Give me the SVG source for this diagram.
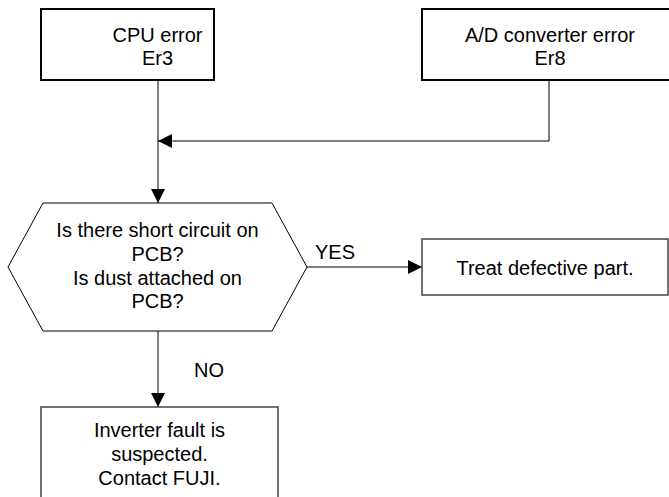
<svg xmlns="http://www.w3.org/2000/svg" width="669" height="497" viewBox="0 0 669 497">
<defs>
<marker id="arr" viewBox="0 0 14 14" refX="14" refY="7" markerWidth="14" markerHeight="14" markerUnits="userSpaceOnUse" orient="auto">
<path d="M0,0 L14,7 L0,14 Z" fill="#000"/>
</marker>
</defs>
<style>
text{font-family:"Liberation Sans",Arial,sans-serif;font-size:20px;fill:#000;text-anchor:middle}
.bx{fill:#fff;stroke:#000;stroke-width:2}
.bx2{fill:#fff;stroke:#444;stroke-width:1.5}
.hex{fill:#fff;stroke:#000;stroke-width:1}
.ln{fill:none;stroke:#000;stroke-width:1}
.lbl{text-anchor:start}
</style>
<g id="connectors">
<path class="ln" d="M158,80 L158,203" marker-end="url(#arr)"/>
<path class="ln" d="M549,80 L549,141 L158,141" marker-end="url(#arr)"/>
<path class="ln" d="M307,267 L422,267" marker-end="url(#arr)"/>
<path class="ln" d="M158,331 L158,407" stroke="#333" marker-end="url(#arr)"/>
<text class="lbl" x="315" y="259">YES</text>
<text class="lbl" x="194" y="377">NO</text>
</g>
<g id="cpu">
<rect class="bx" x="41" y="9" width="173" height="71"/>
<text x="157.5" y="42">CPU error</text>
<text x="157.5" y="65">Er3</text>
</g>
<g id="ad">
<rect class="bx" x="422" y="9" width="260" height="71"/>
<text x="550" y="42">A/D converter error</text>
<text x="550" y="65">Er8</text>
</g>
<g id="check">
<polygon class="hex" points="43,203 272,203 307,267 272,331 43,331 8,267"/>
<text x="157.5" y="237">Is there short circuit on</text>
<text x="157.5" y="261">PCB?</text>
<text x="157.5" y="285">Is dust attached on</text>
<text x="157.5" y="308">PCB?</text>
</g>
<g id="treat">
<rect class="bx2" x="422" y="239" width="246" height="56"/>
<text x="545" y="275">Treat defective part.</text>
</g>
<g id="fault">
<rect class="bx2" x="41" y="407" width="237" height="100"/>
<text x="159.5" y="437">Inverter fault is</text>
<text x="159.5" y="461">suspected.</text>
<text x="159.5" y="485">Contact FUJI.</text>
</g>
</svg>
